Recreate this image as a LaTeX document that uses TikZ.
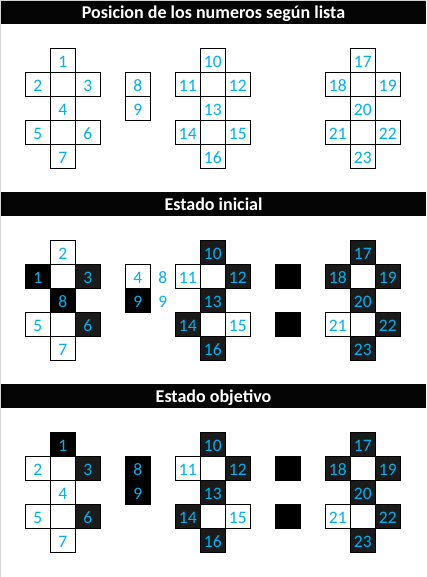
\documentclass[tikz,border=0pt]{standalone}
\usepackage{fontspec}
\setmainfont{Carlito}
\definecolor{numblue}{RGB}{0,176,240}
\definecolor{darkcell}{RGB}{27,27,27}
\definecolor{barblack}{RGB}{5,5,5}
\definecolor{edgegray}{RGB}{212,212,212}
\tikzset{
  cellbox/.style={draw=black, line width=1pt, rectangle, inner sep=0pt,
    minimum width=25pt, minimum height=24pt, text height=14pt, text depth=0pt,
    text=numblue, font=\fontsize{17.5}{17.5}\selectfont},
  freelabel/.style={rectangle, inner sep=0pt, minimum width=25pt, minimum height=24pt,
    text height=14pt, text depth=0pt, text=numblue, font=\fontsize{17.5}{17.5}\selectfont},
  barbox/.style={fill=barblack, rectangle, inner sep=0pt, minimum width=425pt, minimum height=24pt},
  titletext/.style={text=white, font=\bfseries\fontsize{18}{18}\selectfont, inner sep=0pt, anchor=base}
}
% name, section, col, row, fill, label
\newcommand\cel[6]{\node[cellbox, fill=#5] (#1) at ({25*#3+12.8}, {192*#2+60.3+24*#4}) {#6};}
\newcommand\freelab[5]{\node[freelabel] (#1) at ({25*#3+12.8}, {192*#2+60.3+24*#4}) {#5};}
\begin{document}
\begin{tikzpicture}[x=1pt, y=-1pt]
\useasboundingbox (0,0) rectangle (426,577);
\fill[white] (0,0) rectangle (426,577);
\draw[edgegray, line width=1pt] (0.5,577) -- (0.5,0.5) -- (426,0.5);
% bars and titles
\node[barbox, minimum height=23pt] (bar1) at (213.5,12.5) {};
\node[titletext] (t1) at ([yshift=-5.9pt]bar1.center) {Posicion de los numeros según lista};
\node[barbox] (bar2) at (213.5,204) {};
\node[titletext] (t2) at ([yshift=-6pt]bar2.center) {Estado inicial};
\node[barbox] (bar3) at (213.5,396) {};
\node[titletext] (t3) at ([yshift=-6pt]bar3.center) {Estado objetivo};
% ---------- Section 1 ----------
\cel{a1}{0}{2}{0}{white}{1}
\cel{a2}{0}{1}{1}{white}{2}
\cel{am1}{0}{2}{1}{white}{}
\cel{a3}{0}{3}{1}{white}{3}
\cel{a4}{0}{2}{2}{white}{4}
\cel{a5}{0}{1}{3}{white}{5}
\cel{am2}{0}{2}{3}{white}{}
\cel{a6}{0}{3}{3}{white}{6}
\cel{a7}{0}{2}{4}{white}{7}
\cel{a8}{0}{5}{1}{white}{8}
\cel{a9}{0}{5}{2}{white}{9}
\cel{a10}{0}{8}{0}{white}{10}
\cel{a11}{0}{7}{1}{white}{11}
\cel{am3}{0}{8}{1}{white}{}
\cel{a12}{0}{9}{1}{white}{12}
\cel{a13}{0}{8}{2}{white}{13}
\cel{a14}{0}{7}{3}{white}{14}
\cel{am4}{0}{8}{3}{white}{}
\cel{a15}{0}{9}{3}{white}{15}
\cel{a16}{0}{8}{4}{white}{16}
\cel{a17}{0}{14}{0}{white}{17}
\cel{a18}{0}{13}{1}{white}{18}
\cel{am5}{0}{14}{1}{white}{}
\cel{a19}{0}{15}{1}{white}{19}
\cel{a20}{0}{14}{2}{white}{20}
\cel{a21}{0}{13}{3}{white}{21}
\cel{am6}{0}{14}{3}{white}{}
\cel{a22}{0}{15}{3}{white}{22}
\cel{a23}{0}{14}{4}{white}{23}
% ---------- Section 2 ----------
\cel{b2}{1}{2}{0}{white}{2}
\cel{b1}{1}{1}{1}{black}{1}
\cel{bm1}{1}{2}{1}{white}{}
\cel{b3}{1}{3}{1}{darkcell}{3}
\cel{b8}{1}{2}{2}{black}{8}
\cel{b5}{1}{1}{3}{white}{5}
\cel{bm2}{1}{2}{3}{white}{}
\cel{b6}{1}{3}{3}{darkcell}{6}
\cel{b7}{1}{2}{4}{white}{7}
\cel{b4}{1}{5}{1}{white}{4}
\cel{b9}{1}{5}{2}{black}{9}
\freelab{bl8}{1}{6}{1}{8}
\freelab{bl9}{1}{6}{2}{9}
\cel{b10}{1}{8}{0}{darkcell}{10}
\cel{b11}{1}{7}{1}{white}{11}
\cel{bm3}{1}{8}{1}{white}{}
\cel{b12}{1}{9}{1}{darkcell}{12}
\cel{b13}{1}{8}{2}{darkcell}{13}
\cel{b14}{1}{7}{3}{darkcell}{14}
\cel{bm4}{1}{8}{3}{white}{}
\cel{b15}{1}{9}{3}{white}{15}
\cel{b16}{1}{8}{4}{darkcell}{16}
\cel{bs1}{1}{11}{1}{black}{}
\cel{bs2}{1}{11}{3}{black}{}
\cel{b17}{1}{14}{0}{darkcell}{17}
\cel{b18}{1}{13}{1}{darkcell}{18}
\cel{bm5}{1}{14}{1}{white}{}
\cel{b19}{1}{15}{1}{darkcell}{19}
\cel{b20}{1}{14}{2}{darkcell}{20}
\cel{b21}{1}{13}{3}{white}{21}
\cel{bm6}{1}{14}{3}{white}{}
\cel{b22}{1}{15}{3}{darkcell}{22}
\cel{b23}{1}{14}{4}{darkcell}{23}
% ---------- Section 3 ----------
\cel{c1}{2}{2}{0}{black}{1}
\cel{c2}{2}{1}{1}{white}{2}
\cel{cm1}{2}{2}{1}{white}{}
\cel{c3}{2}{3}{1}{darkcell}{3}
\cel{c4}{2}{2}{2}{white}{4}
\cel{c5}{2}{1}{3}{white}{5}
\cel{cm2}{2}{2}{3}{white}{}
\cel{c6}{2}{3}{3}{darkcell}{6}
\cel{c7}{2}{2}{4}{white}{7}
\cel{c8}{2}{5}{1}{black}{8}
\cel{c9}{2}{5}{2}{black}{9}
\cel{c10}{2}{8}{0}{darkcell}{10}
\cel{c11}{2}{7}{1}{white}{11}
\cel{cm3}{2}{8}{1}{white}{}
\cel{c12}{2}{9}{1}{darkcell}{12}
\cel{c13}{2}{8}{2}{darkcell}{13}
\cel{c14}{2}{7}{3}{darkcell}{14}
\cel{cm4}{2}{8}{3}{white}{}
\cel{c15}{2}{9}{3}{white}{15}
\cel{c16}{2}{8}{4}{darkcell}{16}
\cel{cs1}{2}{11}{1}{black}{}
\cel{cs2}{2}{11}{3}{black}{}
\cel{c17}{2}{14}{0}{darkcell}{17}
\cel{c18}{2}{13}{1}{darkcell}{18}
\cel{cm5}{2}{14}{1}{white}{}
\cel{c19}{2}{15}{1}{darkcell}{19}
\cel{c20}{2}{14}{2}{darkcell}{20}
\cel{c21}{2}{13}{3}{white}{21}
\cel{cm6}{2}{14}{3}{white}{}
\cel{c22}{2}{15}{3}{darkcell}{22}
\cel{c23}{2}{14}{4}{darkcell}{23}
\end{tikzpicture}
\end{document}
